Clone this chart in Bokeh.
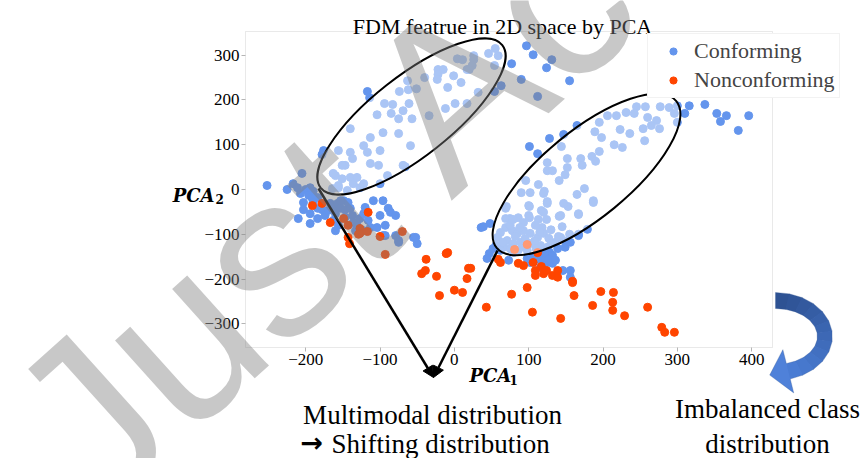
import numpy as np
from bokeh.plotting import figure
from bokeh.models import (Label, Arrow, NormalHead, PolyAnnotation, FixedTicker, BoxAnnotation,
                          Legend, LegendItem, Range1d)
from bokeh.embed import file_html
from bokeh.resources import INLINE

# ---------------- data ----------------
conf_x = [
    -117, -114, -74, -62, -51, -40, -22, -15, -22, -23, 4, 11, 26, 26, 24, 17, 20, 46, 55, 59, 54, 77, 97, 106,
    131, 124, 155, 90, 112, 63, 54, 32, -1, 9, -9, -12, 1, 17, -61, -69, -83, -94, -104, -85, -34, -57, -75, -63,
    165, 147, 128, 101, 112, 316, 337, 353, 366, 358, 396, 382, 310, 36, 48, 179, 167,
    257, 277, 289, 300, 296, 300, 245, 231, 218, 242, 260, 272, 265, 276, 254, 256, 236, 223, 226, 215, 206, 195,
    189, 198, 195, 185, 190, 170, 172, 144, 152, 152, 149, 125, 125, 132, 141, 113, 96, 121, 120, 125, 102, 90,
    175, 165, 187, 153, 141, 167, 145, 124, 117, 101, 101, 113, 86, 75, 70, 69, 78,
    69, 75, 62, 58, 71, 85, 93, 102, 112, 120, 127, 136, 143, 79, 89, 106, 116, 125, 66, 62, 75, 86, 98, 118,
    120, 100, 100, 125, 143, 140, 167, 147, 187, 79, 69, 93, 109,
    82, 95, 108, 130, 150, 155, 65, 80, 92, 110, 128, 56, 100, 115, 88, 130,
    39, 47, 44, 52, 73, 102, 112, 118, 125, 132, 139, 149, 156, 167, 146, 156, 156, 116, 122, 132, 106, 127,
    136, 120, 98, 116,
    -252, -205, -225, -217, -211, -200, -194, -207, -196, -190, -184, -191, -210, -203, -194, -184, -178, -184,
    -194, -174, -170, -163, -167, -157, -149, -143, -153, -147, -140, -160, -163, -156, -160, -147, -137, -136,
    -131, -133, -127, -122, -120, -116, -113, -122, -109, -96, -100, -104, -93, -89, -86, -79, -93, -79, -75,
    -55, -50, -153, -176, -190, -203, -178, -96, -75, -52,
    -156, -147, -160, -151, -140, -136, -156, -164, -122, -102, -90, -66, -140, -117, -140, -122, -100, -137,
    -151, -163, -113, -75, -59, -96, -69, -113, -100, -131, -127, -156, -144,
]
conf_y = [
    219, 205, 219, 223, 225, 250, 268, 268, 257, 246, 292, 290, 299, 290, 277, 268, 268, 304, 315, 299, 277, 281,
    321, 301, 290, 272, 243, 246, 208, 232, 219, 217, 254, 239, 228, 181, 192, 192, 192, 176, 190, 192, 167, 170,
    165, 158, 158, 243,
    143, 123, 114, 96, 80, 187, 190, 170, 165, 152, 165, 132, 170, -85, -76, -89, -100,
    185, 185, 183, 187, 170, 150, 185, 172, 165, 170, 161, 154, 143, 136, 136, 109, 125, 134, 94, 100, 165, 150,
    129, 116, 85, 74, 63, 69, 54, 96, 69, 49, 33, 60, 42, 42, 20, 11, 20, -4, -9, -27, -7, -7,
    2, -11, -25, -38, -60, -56, -83, -67, -47, -38, -63, -67, -63, -65, -38, -85, -92,
    -65, -80, -96, -107, -114, -98, -92, -98, -107, -98, -109, -118, -107, -121, -118, -121, -125, -129, -129,
    -136, -132, -136, -136, -85, -51, -58, -36, -31, -58, -105, -54, -31, -29, -67, -42, -74, -80,
    -105, -110, -115, -120, -115, -100, -118, -140, -128, -132, -140, -125, -120, -95, -85, -90,
    -83, -143, -154, -132, -158, -163, -156, -152, -163, -165, -132, -129, -118, -103, -181, -181, -196, -143,
    -141, -147, -152, -156, -158, -165, -154, -174,
    9, 36, 0, 13, 4, 0, 4, -9, -13, -4, -18, -20, -65, -45, -54, -42, -45, -65, -76, -58, -47, -40, -31, -31,
    -25, -29, -42, -45, -42, -54, -69, -80, -92, -62, -58, -74, -80, -92, -65, -54, -40, -69, -85, -92, -25,
    -25, -58, -85, -80, -42, -51, -58, -103, -103, -114, -107, -121, -25, 87, -29, -29, 78, -103, -118, -107,
    87, 54, 31, 24, 27, 13, 4, 2, 13, 54, 31, 51, 83, 83, 136, 98, 87, 69, 54, 36, 116, 125, 98, 127, 54, 58,
    13, 27, 4, 9, -2,
]
nonconf_x = [
    59, 62, 86, 93, 106, 109, 109, 117, 120, 124, 132, 139, 139, 159, 98, 77, 43, 105, 143, 161, 186, 197, 214,
    213, 213, 229, 260, 279, 283, 296, 81, 98, 112, 159,
    -191, -178, -167, -149, -143, -127, -127, -117, -116, -143, -141, -100, -70, -93, -9, -38, -39, -44, -24,
    19, -129, -11, -20, 0, 11, 17, 22,
]
nonconf_y = [
    -156, -163, -165, -170, -163, -181, -192, -172, -188, -181, -192, -196, -181, -205, -219, -234, -263, -274,
    -288, -237, -259, -228, -230, -252, -270, -282, -263, -308, -319, -319, -134, -123, -141, -208,
    -36, -31, -74, -65, -80, -87, -98, -94, -51, -107, -121, -105, -94, -145, -141, -156, -181, -188, -194,
    -176, -100, -143, -237, -225, -230, -199, -176,
]

x_ticks = [-200, -100, 0, 100, 200, 300, 400]
x_tick_labels = ["\u2212200", "\u2212100", "0", "100", "200", "300", "400"]
y_ticks = [-300, -200, -100, 0, 100, 200, 300]
y_tick_labels = ["\u2212300", "\u2212200", "\u2212100", "0", "100", "200", "300"]

# visible data box
X0, X1 = -281, 428
Y0, Y1 = -353, 353

# ---------------- layout ----------------
W, H = 868, 458
FL, FR, FT, FB = 245, 772, 31, 347   # visible box edges in canvas pixels
SX = (X1 - X0) / (FR - FL)
SY = (Y1 - Y0) / (FB - FT)
XA0, XA1 = X0 - FL * SX, X1 + (W - FR) * SX
YA0, YA1 = Y0 - (H - FB) * SY, Y1 + FT * SY

def px(X, Y):
    """canvas pixel -> data coordinates (for decorations)"""
    return (X0 + (X - FL) * SX, Y1 - (Y - FT) * SY)

SERIF = "Liberation Serif"
GRAY = "#b5b5b5"

p = figure(width=W, height=H, x_range=Range1d(XA0, XA1), y_range=Range1d(YA0, YA1),
           output_backend="svg", toolbar_location=None,
           min_border_left=0, min_border_right=0, min_border_top=0, min_border_bottom=0)
p.background_fill_color = "white"
p.border_fill_color = "white"
p.outline_line_color = None
p.xgrid.visible = False
p.ygrid.visible = False

p.xaxis.fixed_location = Y0
p.yaxis.fixed_location = X0
for ax, ticks, labels in ((p.xaxis[0], x_ticks, x_tick_labels), (p.yaxis[0], y_ticks, y_tick_labels)):
    ax.ticker = FixedTicker(ticks=ticks)
    ax.major_label_overrides = {t: l for t, l in zip(ticks, labels)}
    ax.major_label_text_font = SERIF
    ax.major_label_text_font_size = "17px"
    ax.major_label_text_color = "black"
    ax.axis_line_color = None
    ax.major_tick_line_color = GRAY
    ax.major_tick_out = 4
    ax.major_tick_in = 0
    ax.minor_tick_line_color = None
    ax.major_label_standoff = 2

# ---------------- points ----------------
BLUE = "#6495ED"
ORANGE = "#FF4500"
r_conf = p.scatter(conf_x, conf_y, size=8, fill_color=BLUE, line_color=BLUE)
r_non = p.scatter(nonconf_x, nonconf_y, size=8, fill_color=ORANGE, line_color=ORANGE)

# ---------------- ellipses (semi-transparent white) ----------------
e1 = px(411, 116)
e2 = px(586, 174)
p.ellipse(x=[e1[0], e2[0]], y=[e1[1], e2[1]], width=[231, 232], height=[80, 87],
          angle=[38.2, 39.3], angle_units="deg", width_units="screen", height_units="screen",
          fill_color="white", fill_alpha=0.45, line_color="black", line_width=2)

# visible plot box
p.add_layout(BoxAnnotation(left=X0, right=X1, bottom=Y0, top=Y1, fill_color=None,
                           line_color=GRAY, line_width=1))

# ---------------- converging arrows ----------------
tip = px(433, 377)
for sx, sy in ((318, 188), (497, 250)):
    s = px(sx, sy)
    p.add_layout(Arrow(x_start=s[0], y_start=s[1], x_end=tip[0], y_end=tip[1],
                       line_color="black", line_width=2.5,
                       end=NormalHead(size=11, fill_color="black", line_color="black", line_width=1)))

# ---------------- legend ----------------
legend = Legend(items=[LegendItem(label="Conforming", renderers=[r_conf]),
                       LegendItem(label="Nonconforming", renderers=[r_non])],
                location=(647, H - 98), orientation="vertical",
                label_text_font=SERIF, label_text_font_size="22px",
                label_height=24, glyph_height=18, glyph_width=42, label_standoff=0,
                spacing=3, padding=4, margin=0,
                border_line_color="#e6e6e6", border_line_width=1,
                background_fill_color="white", background_fill_alpha=1.0)
p.add_layout(legend)

# ---------------- texts ----------------
def add_text(text, X, Y, size, align="left", style="normal", font=SERIF, color="black", angle=0, alpha=1.0):
    x, y = px(X, Y)
    p.add_layout(Label(x=x, y=y, text=text, text_font=font, text_font_size=size,
                       text_font_style=style, text_align=align, text_baseline="alphabetic",
                       text_color=color, text_alpha=alpha, angle=angle, angle_units="deg"))

add_text("FDM featrue in 2D space by PCA", 502, 26, "22px", align="center")
add_text("PCA", 214, 195, "18px", align="right", style="bold italic", font="DejaVu Serif")
add_text("2", 215, 198, "12px", style="bold", font="DejaVu Serif")
add_text("PCA", 469, 375, "18px", style="bold italic", font="DejaVu Serif")
add_text("1", 509, 379, "12px", style="bold", font="DejaVu Serif")
add_text("Multimodal distribution", 432, 414, "27px", align="center")
add_text("\u2192", 300, 442, "27px", style="bold", font="DejaVu Sans")
add_text("Shifting distribution", 331, 443, "27px")
add_text("Imbalanced class", 767, 408, "27px", align="center")
add_text("distribution", 767, 443, "27px", align="center")

# ---------------- curved blue arrow ----------------
cx, cy = 775, 336
rxo, ryo, rxi, ryi = 57, 44, 42, 28
phis = np.linspace(90, -75, 13)
c0 = np.array([0x2E, 0x52, 0x93])
c1 = np.array([0x4A, 0x7C, 0xD3])
for k in range(len(phis) - 1):
    a, b = np.radians(phis[k]), np.radians(phis[k + 1] - 1.0)
    pts = [(cx + rxo * np.cos(a), cy - ryo * np.sin(a)), (cx + rxo * np.cos(b), cy - ryo * np.sin(b)),
           (cx + rxi * np.cos(b), cy - ryi * np.sin(b)), (cx + rxi * np.cos(a), cy - ryi * np.sin(a))]
    d = [px(*q) for q in pts]
    col = c0 + (c1 - c0) * (k / (len(phis) - 2))
    p.add_layout(PolyAnnotation(xs=[q[0] for q in d], ys=[q[1] for q in d],
                                fill_color="#%02x%02x%02x" % tuple(int(v) for v in col), fill_alpha=1,
                                line_color=None))
pe = np.radians(phis[-1])
oe = np.array([cx + rxo * np.cos(pe), cy - ryo * np.sin(pe)])
ie = np.array([cx + rxi * np.cos(pe), cy - ryi * np.sin(pe)])
ib = ie + (ie - oe) * 0.9
ob = oe + (oe - ie) * 0.9
mid = (oe + ie) / 2
tv = np.array([rxo * np.sin(pe), ryo * np.cos(pe)])
tv = tv / np.linalg.norm(tv)
tp = mid + 19 * tv
head = [px(*q) for q in (ob, tp, ib, ie, oe)]
p.add_layout(PolyAnnotation(xs=[q[0] for q in head], ys=[q[1] for q in head],
                            fill_color="#4F81D9", fill_alpha=1, line_color=None))
outline = ([(cx + rxo * np.cos(np.radians(f)), cy - ryo * np.sin(np.radians(f))) for f in phis]
           + [tuple(ob), tuple(tp), tuple(ib)]
           + [(cx + rxi * np.cos(np.radians(f)), cy - ryi * np.sin(np.radians(f))) for f in phis[::-1]])
od = [px(*q) for q in outline]
p.add_layout(PolyAnnotation(xs=[q[0] for q in od], ys=[q[1] for q in od],
                            fill_color=None, line_color="#2F528F", line_width=1))

# ---------------- watermark ----------------
add_text("Just Accepted", 46, 458, "230px", font="Liberation Sans",
         color="#808080", angle=42, alpha=0.43)

open("out.html", "w").write(file_html(p, INLINE))
